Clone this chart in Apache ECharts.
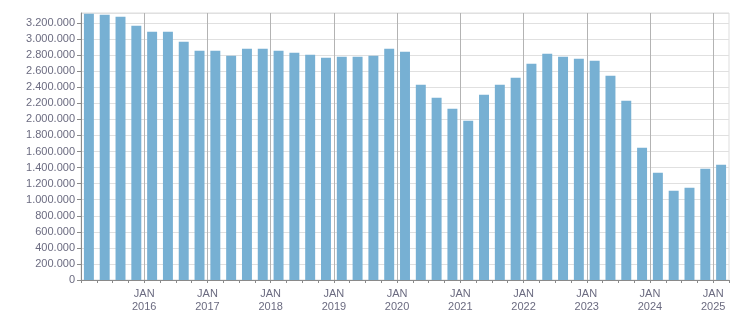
<!DOCTYPE html>
<html>
<head>
<meta charset="utf-8">
<script src="https://cdn.jsdelivr.net/npm/echarts@6/dist/echarts.min.js"></script>
<style>
html,body{margin:0;padding:0;background:#fff;}
#c{width:751px;height:313px;}
</style>
</head>
<body>
<div id="c"></div>
<script>
const categories = [
  '2015 Q1','2015 Q2','2015 Q3','2015 Q4',
  '2016 Q1','2016 Q2','2016 Q3','2016 Q4',
  '2017 Q1','2017 Q2','2017 Q3','2017 Q4',
  '2018 Q1','2018 Q2','2018 Q3','2018 Q4',
  '2019 Q1','2019 Q2','2019 Q3','2019 Q4',
  '2020 Q1','2020 Q2','2020 Q3','2020 Q4',
  '2021 Q1','2021 Q2','2021 Q3','2021 Q4',
  '2022 Q1','2022 Q2','2022 Q3','2022 Q4',
  '2023 Q1','2023 Q2','2023 Q3','2023 Q4',
  '2024 Q1','2024 Q2','2024 Q3','2024 Q4',
  '2025 Q1'
];
const values = [
  3316000, 3303000, 3278000, 3166000,
  3092000, 3092000, 2967000, 2855000,
  2855000, 2793000, 2880000, 2880000,
  2855000, 2830000, 2805000, 2768000,
  2780000, 2780000, 2793000, 2880000,
  2843000, 2432000, 2270000, 2133000,
  1984000, 2307000, 2432000, 2519000,
  2693000, 2818000, 2780000, 2755000,
  2731000, 2544000, 2233000, 1647000,
  1336000, 1112000, 1149000, 1386000,
  1436000
];
const yearTickLabels = [
  'JAN\n2016','JAN\n2017','JAN\n2018','JAN\n2019','JAN\n2020',
  'JAN\n2021','JAN\n2022','JAN\n2023','JAN\n2024','JAN\n2025'
];
const yMax = 3325000;
const yInterval = 200000;

const labelColor = '#6b6b80';
const axisColor = '#8a8a8a';
const fontFamily = 'Liberation Sans';

function fmtNum(v) {
  return String(Math.round(v)).replace(/\B(?=(\d{3})+(?!\d))/g, '.');
}

const chart = echarts.init(document.getElementById('c'), null, {renderer: 'canvas'});
chart.setOption({
  animation: false,
  backgroundColor: '#ffffff',
  grid: {
    left: 81, right: 22, top: 13, bottom: 32,
    show: true, borderColor: '#dddddd', borderWidth: 1, backgroundColor: 'transparent'
  },
  xAxis: [
    {
      type: 'category',
      data: categories,
      boundaryGap: true,
      axisLine: {show: true, lineStyle: {color: axisColor, width: 1}},
      axisTick: {show: true, interval: 0, length: 3, lineStyle: {color: axisColor}},
      axisLabel: {show: false},
      splitLine: {show: false}
    },
    {
      type: 'value',
      position: 'bottom',
      min: 0,
      max: categories.length,
      interval: 4,
      axisLine: {show: false},
      axisTick: {show: false},
      axisLabel: {
        show: true,
        color: labelColor,
        fontFamily: fontFamily,
        fontSize: 11,
        lineHeight: 13,
        margin: 7,
        formatter: function (v) {
          if (v > 0 && v % 4 === 0) return yearTickLabels[v / 4 - 1] || '';
          return '';
        }
      },
      splitLine: {
        show: true,
        showMinLine: false,
        showMaxLine: false,
        lineStyle: {color: '#b3b3b3', width: 1}
      }
    }
  ],
  yAxis: {
    type: 'value',
    min: 0,
    max: yMax,
    interval: yInterval,
    axisLine: {show: true, lineStyle: {color: axisColor, width: 1}},
    axisTick: {show: true, length: 4, lineStyle: {color: axisColor}},
    axisLabel: {
      color: labelColor,
      fontFamily: fontFamily,
      fontSize: 11,
      margin: 6,
      showMaxLabel: false,
      formatter: fmtNum
    },
    splitLine: {show: true, lineStyle: {color: '#e0e0e0', width: 1}}
  },
  series: [{
    type: 'bar',
    xAxisIndex: 0,
    yAxisIndex: 0,
    data: values,
    barCategoryGap: '37%',
    itemStyle: {color: '#77b0d3'}
  }]
});
</script>
</body>
</html>
